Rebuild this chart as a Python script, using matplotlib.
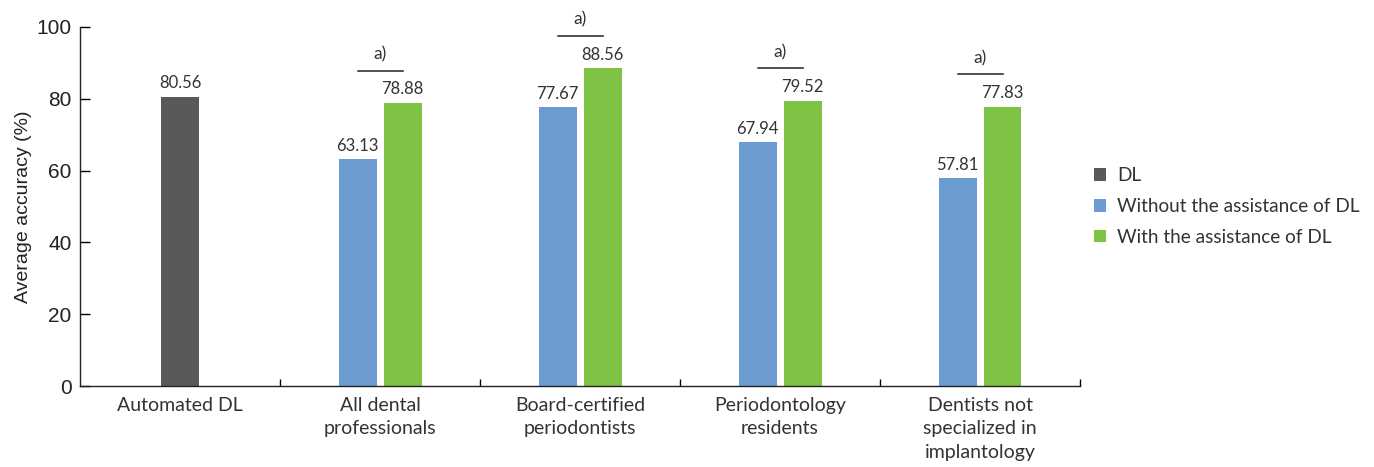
import matplotlib
matplotlib.use("Agg")
import matplotlib.pyplot as plt
import numpy as np

# data
categories = ["Automated DL", "All dental\nprofessionals", "Board-certified\nperiodontists",
              "Periodontology\nresidents", "Dentists not\nspecialized in\nimplantology"]
dl_value = 80.56
without_dl = [63.13, 77.67, 67.94, 57.81]
with_dl = [78.88, 88.56, 79.52, 77.83]
sig_label = "a)"

c_dl = "#58595b"
c_without = "#6b9bd1"
c_with = "#7dc242"
txt = "#333333"
lab_font = ["Lato", "DejaVu Sans"]
ax_font = ["Liberation Sans", "DejaVu Sans"]

fig = plt.figure(figsize=(13.74, 4.67), dpi=100)
ax = fig.add_axes([80/1374, 81/467, 1000/1374, 359/467])

w = 0.19
off = 0.1125
x = np.arange(len(categories))
ax.bar(x[0], dl_value, w, color=c_dl, label="DL")
ax.bar(x[1:] - off, without_dl, w, color=c_without, label="Without the assistance of DL")
ax.bar(x[1:] + off, with_dl, w, color=c_with, label="With the assistance of DL")

ax.text(x[0], dl_value + 1.5, f"{dl_value:.2f}", ha="center", va="bottom",
        fontsize=12, color=txt, family=lab_font)
for xi, a, b in zip(x[1:], without_dl, with_dl):
    ax.text(xi - off, a + 1.5, f"{a:.2f}", ha="center", va="bottom",
            fontsize=12, color=txt, family=lab_font)
    ax.text(xi + off, b + 1.5, f"{b:.2f}", ha="center", va="bottom",
            fontsize=12, color=txt, family=lab_font)
    ly = b + 9
    ax.plot([xi - off, xi + off], [ly, ly], color="#222222", lw=1.1, clip_on=False)
    ax.text(xi, ly + 2.2, sig_label, ha="center", va="bottom",
            fontsize=12.5, color=txt, family=lab_font, clip_on=False)

ax.set_xlim(-0.5, len(categories) - 0.5)
ax.set_ylim(0, 100)
ax.set_yticks(range(0, 101, 20))
ax.set_xticks(x)
ax.set_xticklabels(categories, fontsize=14, color=txt, family=lab_font, linespacing=1.45)
ax.set_xticks(np.arange(0.5, len(categories)), minor=True)
ax.tick_params(axis="x", which="major", length=0, pad=8)
ax.tick_params(axis="x", which="minor", direction="in", length=5, width=1)
ax.tick_params(axis="y", direction="in", length=7, width=1, labelsize=15, labelcolor="#222222", pad=6)
for t in ax.get_yticklabels():
    t.set_family(ax_font)
ax.set_ylabel("Average accuracy (%)", fontsize=14, color="#222222", family=ax_font, labelpad=3)

for s in ["top", "right"]:
    ax.spines[s].set_visible(False)
for s in ["left", "bottom"]:
    ax.spines[s].set_linewidth(1)
    ax.spines[s].set_color("#222222")

leg = ax.legend(loc="center left", bbox_to_anchor=(0.997, 0.5), frameon=False,
                handlelength=0.65, handleheight=0.65, handletextpad=0.55, labelspacing=0.72,
                prop={"family": lab_font, "size": 13.7})
for t in leg.get_texts():
    t.set_color(txt)

fig.savefig("out.png", dpi=100)
